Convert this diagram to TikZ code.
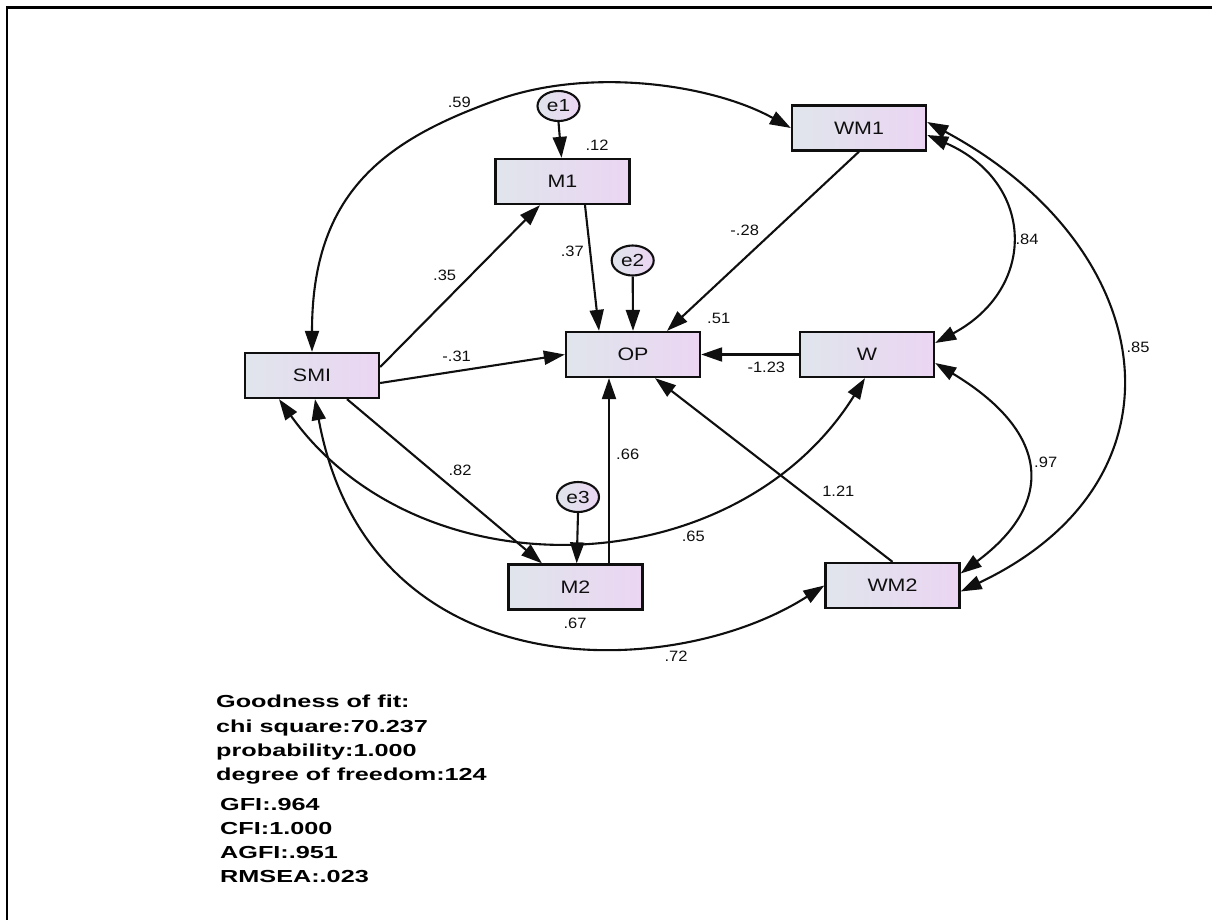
\documentclass[tikz,border=0pt]{standalone}
\usepackage{fontspec}
\setmainfont{Liberation Sans}
\newfontfamily\boxfnt[FakeStretch=1.19]{Liberation Sans}
\newfontfamily\lblfnt[FakeStretch=1.1]{Liberation Sans}
\newfontfamily\fitfnt[FakeStretch=1.45]{Liberation Sans}
\usetikzlibrary{arrows.meta,shapes.geometric}
\definecolor{boxL}{RGB}{224,229,236}
\definecolor{boxR}{RGB}{235,213,243}
\definecolor{inkc}{RGB}{15,15,15}
\begin{document}
\begin{tikzpicture}[x=1pt,y=-1pt,
  varbox/.style={draw=inkc, line width=2.3pt, minimum width=134pt, minimum height=45pt,
    inner sep=0pt, left color=boxL, right color=boxR, text=inkc,
    font=\boxfnt\fontsize{18}{20}\selectfont},
  errnode/.style={ellipse, draw=inkc, line width=2.1pt, minimum width=42pt, minimum height=30pt,
    inner sep=0pt, left color=boxL, right color=boxR, text=inkc,
    font=\boxfnt\fontsize{17.5}{20}\selectfont},
  lbl/.style={inner sep=0pt, text=inkc, font=\lblfnt\fontsize{15}{17}\selectfont},
  regarrow/.style={draw=inkc, line width=2.1pt, -{Triangle[length=21pt,width=14pt]}},
  covarrow/.style={draw=inkc, line width=2.1pt,
    {Triangle[length=21pt,width=14pt]}-{Triangle[length=21pt,width=14pt]}},
  fitline/.style={inner sep=0pt, anchor=base west, text=black,
    font=\fitfnt\bfseries\fontsize{17.4}{20}\selectfont}]
\useasboundingbox (0,0) rectangle (1212,920);
% frame
\draw[line width=2.6pt, black] (7,921) -- (7,7.5) -- (1213,7.5);

% nodes
\node[varbox] (WM1) at (859,128) {WM1};
\node[varbox] (M1) at (562.5,181.5) {M1};
\node[varbox] (OP) at (633,354.5) {OP};
\node[varbox] (SMI) at (312,375.5) {SMI};
\node[varbox] (W) at (867,354.5) {W};
\node[varbox] (M2) at (575.5,587) {M2};
\node[varbox] (WM2) at (892.5,585.5) {WM2};
\node[errnode] (e1) at (558.5,106) {e1};
\node[errnode] (e2) at (632.7,260.5) {e2};
\node[errnode] (e3) at (578,497) {e3};

% covariances
\coordinate (c59) at (497,100);
\draw[covarrow] (SMI.north) .. controls (312,193) and (384,140.3) .. (c59)
  .. controls (591.2,66.4) and (712.8,84.7) .. (WM1.west);
\draw[covarrow] ([yshift=-7pt]WM1.east) .. controls (1035,182) and (1038,288) .. ([yshift=11.5pt]W.east);
\draw[covarrow] ([yshift=6pt]WM1.east) .. controls (1160,247) and (1196,480) .. ([yshift=-6pt]WM2.east);
\draw[covarrow] ([yshift=-8.5pt]W.east) .. controls (1047.5,430.6) and (1058,501) .. ([yshift=12pt]WM2.east);
\draw[covarrow] ([xshift=-33pt]SMI.south) .. controls (420.5,596.6) and (735.7,585.4) .. ([xshift=-2pt]W.south);
\draw[covarrow] ([xshift=3pt]SMI.south) .. controls (369,693) and (674,682) .. (WM2.west);

% regressions
\draw[regarrow] (e1.south) -- ([xshift=-1pt]M1.north);
\draw[regarrow] (e2.south) -- (OP.north);
\draw[regarrow] (e3.south) -- ([xshift=1.2pt]M2.north);
\draw[regarrow] ([xshift=22.5pt]M1.south) -- ([xshift=-34pt]OP.north);
\draw[regarrow] ([yshift=8.5pt]SMI.east) -- ([xshift=-22.5pt]M1.south);
\draw[regarrow] ([yshift=-7.5pt]SMI.east) -- (OP.west);
\draw[regarrow] (WM1.south) -- ([xshift=34pt]OP.north);
\draw[regarrow] (W.west) -- (OP.east);
\draw[regarrow] ([xshift=35pt]SMI.south) -- ([xshift=-33.5pt]M2.north);
\draw[regarrow] ([xshift=33.5pt]M2.north) -- ([xshift=33.5pt]M2.north |- OP.south);
\draw[regarrow] (WM2.north) -- ([xshift=22pt]OP.south);

% labels
\node[lbl] (l59) at (459.3,102) {.59};
\node[lbl] (l12) at (597,145) {.12};
\node[lbl] (l35) at (444.7,275) {.35};
\node[lbl] (l37) at (572.3,251.7) {.37};
\node[lbl] (l31) at (456.7,356) {-.31};
\node[lbl] (l51) at (718.7,318.3) {.51};
\node[lbl] (l28) at (744.7,230) {-.28};
\node[lbl] (l84) at (1027,239.3) {.84};
\node[lbl] (l85) at (1138,347) {.85};
\node[lbl] (l123) at (766.3,367.3) {-1.23};
\node[lbl] (l82) at (460,470) {.82};
\node[lbl] (l66) at (627.7,454.3) {.66};
\node[lbl] (l65) at (693.3,536.7) {.65};
\node[lbl] (l67) at (575,623.3) {.67};
\node[lbl] (l72) at (676,656.3) {.72};
\node[lbl] (l121) at (838.3,491.7) {1.21};
\node[lbl] (l97) at (1045.7,462) {.97};

% goodness of fit
\node[fitline] (g1) at (216,707.3) {Goodness of fit:};
\node[fitline] (g2) at (216,732.3) {chi square:70.237};
\node[fitline] (g3) at (216,756) {probability:1.000};
\node[fitline] (g4) at (216,780.5) {degree of freedom:124};
\node[fitline] (g5) at (220,810) {GFI:.964};
\node[fitline] (g6) at (220,834) {CFI:1.000};
\node[fitline] (g7) at (220,858.3) {AGFI:.951};
\node[fitline] (g8) at (220,882.7) {RMSEA:.023};
\end{tikzpicture}
\end{document}
